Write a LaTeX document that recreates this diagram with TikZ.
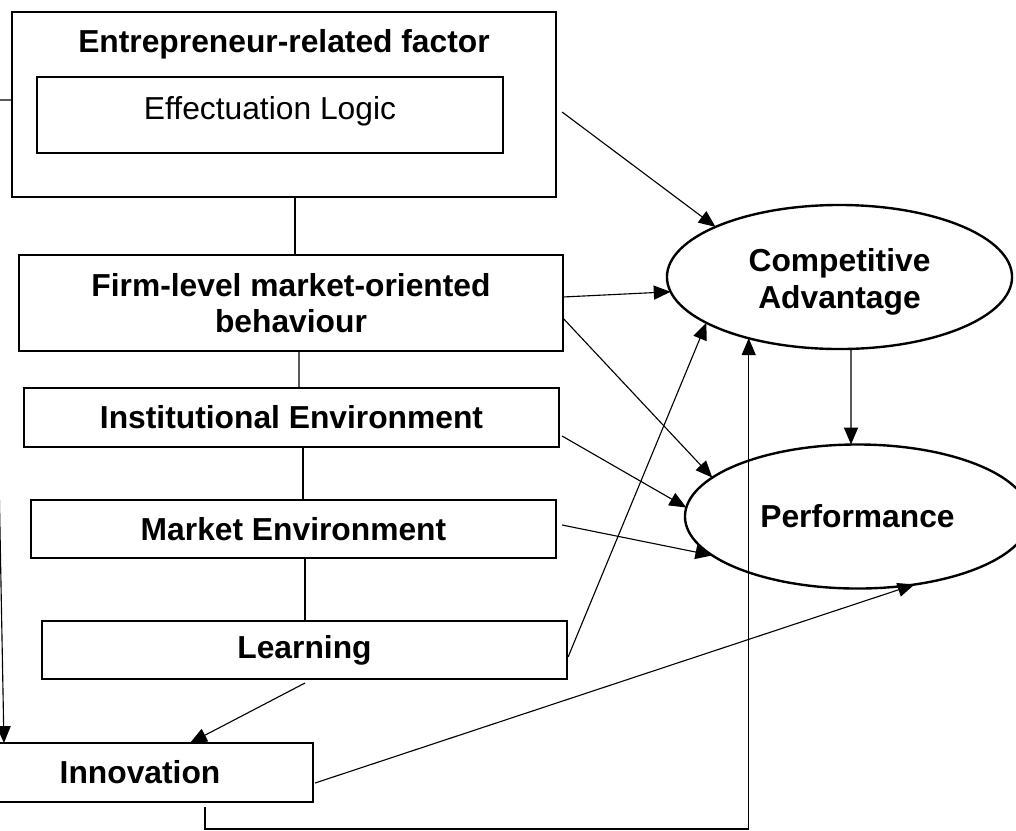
\documentclass[tikz,border=0pt]{standalone}
\usepackage{fontspec}
\setmainfont{Liberation Sans}
\usetikzlibrary{arrows.meta,shapes.geometric}
\tikzset{
  factor/.style={draw, line width=1.7pt, inner sep=0pt, outer sep=0pt, align=center,
    font=\fontsize{22.6}{26}\selectfont\bfseries},
  outcome/.style={factor, ellipse, minimum width=8.625cm, minimum height=3.6cm},
  link/.style={line width=0.8pt},
  arr/.style={link, -{Triangle[length=12pt,width=10pt]}}
}
\begin{document}
\begin{tikzpicture}[x=0.025cm,y=-0.025cm]
\useasboundingbox (0,0) rectangle (1016,830);

% left column
\node[factor, minimum width=13.6cm, minimum height=4.625cm] (ent) at (284,104.5) {};
\node[factor, draw=none, anchor=base] (enttitle) at (284,52) {Entrepreneur-related factor};
\node[factor, font=\fontsize{22.6}{26}\selectfont, minimum width=11.64cm, minimum height=1.9cm] (eff) at (270,115) {\raisebox{3pt}[\height][\depth]{Effectuation Logic}};
\node[factor, minimum width=13.59cm, minimum height=2.4cm] (firm) at (291,303) {Firm-level market-oriented\\behaviour};
\node[factor, minimum width=13.375cm, minimum height=1.475cm] (inst) at (291.5,417.5) {Institutional Environment};
\node[factor, minimum width=13.125cm, minimum height=1.45cm] (mkt) at (293.5,529) {Market Environment};
\node[factor, minimum width=13.125cm, minimum height=1.45cm] (learn) at (304.5,650) {Learning};
\node[factor, minimum width=8.65cm, minimum height=1.475cm] (innov) at (140,772.5) {Innovation};

% outcomes
\node[outcome] (ca) at (839.5,277) {\raisebox{-4pt}[\height][\depth]{\begin{tabular}{@{}c@{}}Competitive\\Advantage\end{tabular}}};
\node[outcome] (perf) at (857.5,516.5) {Performance};

% plain links down the column
\draw[link] ([shift={(11,0)}]ent.south) -- ([shift={(4,0)}]firm.north);
\draw[link] ([shift={(8,0)}]firm.south) -- ([shift={(7.5,0)}]inst.north);
\draw[link] ([shift={(11.5,0)}]inst.south) -- ([shift={(9.5,0)}]mkt.north);
\draw[link] ([shift={(11.5,0)}]mkt.south) -- ([shift={(0.5,0)}]learn.north);

% arrows to the outcomes
\draw[arr] ([shift={(6,7.5)}]ent.east) -- (ca.158);
\draw[arr] ([shift={(0,-6)}]firm.east) -- (ca.185);
\draw[arr] ([shift={(0,15)}]firm.east) -- (perf.165);
\draw[arr] ([shift={(3,18.5)}]inst.east) -- (perf.177);
\draw[arr] ([shift={(6,-4)}]mkt.east) -- (perf.195);
\draw[arr] ([shift={(1,7)}]learn.east) -- (ca.199);
\draw[arr] ([shift={(0.5,4)}]learn.south) -- ([shift={(50,0)}]innov.north);
\draw[arr] ([shift={(2,10.5)}]innov.east) -- (perf.-50);
\draw[arr] ([shift={(11.5,0)}]ca.south) -- ([shift={(-6.5,0)}]perf.north);

% innovation loop back to competitive advantage
\coordinate (loopbase) at (0,829);
\draw[arr] ([shift={(65,5)}]innov.south) |- (ca.214 |- loopbase) -- (ca.214);

% link round the left side
\coordinate (lbend) at (-8,100);
\draw[arr] ([shift={(0,-4.5)}]ent.west) -- (lbend) -- ([shift={(37,0)}]innov.north west);
\end{tikzpicture}
\end{document}
